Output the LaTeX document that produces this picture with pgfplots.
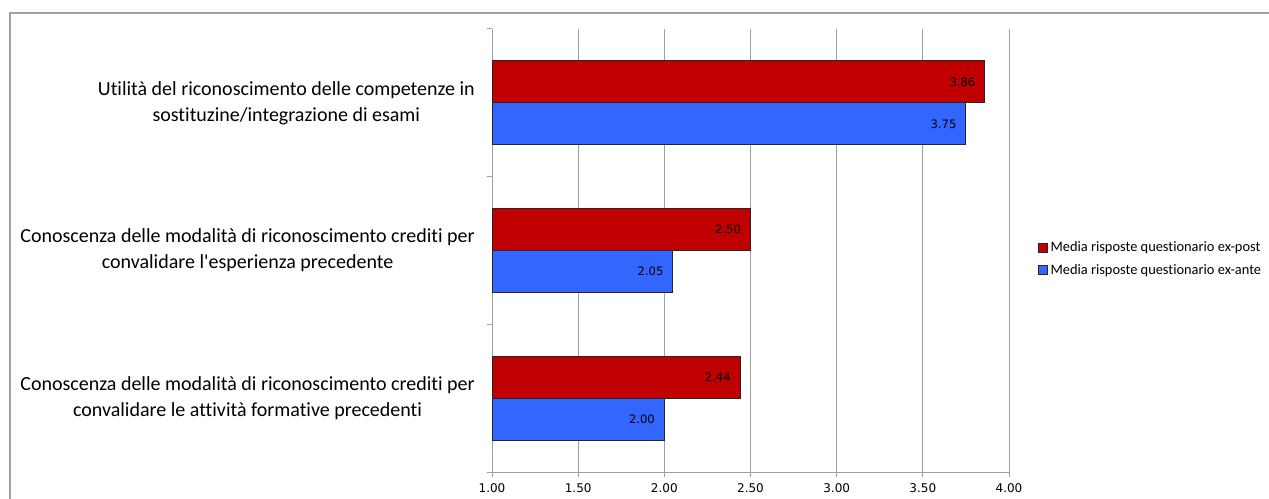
\documentclass[border=0pt]{standalone}
\usepackage{pgfplots}
\pgfplotsset{compat=1.18}
\usepackage{fontspec}
\setmainfont{Carlito}[Ligatures={NoCommon}]
\newfontfamily\numfont{DejaVu Sans}
\definecolor{redbar}{RGB}{192,0,0}
\definecolor{bluebar}{RGB}{51,102,255}
\definecolor{gridc}{RGB}{160,160,160}
\begin{document}
\begin{tikzpicture}[x=1pt,y=1pt]
\useasboundingbox (0,0) rectangle (951.75,374.25);
\draw[gridc, line width=1pt] (7.5,0) -- (7.5,364.5) -- (951.75,364.5);
\begin{axis}[
  at={(369pt,20.25pt)}, anchor=south west,
  scale only axis, width=387.75pt, height=332.25pt,
  xmin=1, xmax=4, ymin=-0.5, ymax=2.5,
  xbar, bar width=31.5pt,
  xtick={1,1.5,2,2.5,3,3.5,4},
  /pgf/number format/.cd, fixed, fixed zerofill, precision=2, assume math mode=true, /pgfplots/.cd,
  xticklabel style={font=\numfont\fontsize{9}{10}\selectfont, yshift=-1.5pt},
  xmajorgrids, grid style={gridc, line width=0.75pt},
  axis x line*=bottom, axis y line*=left,
  axis line style={gridc, line width=0.75pt, -},
  tick align=outside, major tick length=3.75pt,
  tick style={gridc, line width=0.75pt},
  ytick={-0.5,0.5,1.5,2.5}, yticklabels={},
  extra y ticks={0,1,2},
  extra y tick labels={{Conoscenza delle modalità di riconoscimento crediti per\\convalidare le attività formative precedenti},{Conoscenza delle modalità di riconoscimento crediti per\\convalidare l\textquotesingle esperienza precedente},{Utilità del riconoscimento delle competenze in\\sostituzine/integrazione di esami}},
  extra y tick style={major tick length=0pt, yticklabel style={align=center, font=\fontsize{15}{19.5}\selectfont, inner sep=0pt, anchor=east, xshift=-12.75pt}},
  nodes near coords={\pgfmathprintnumber{\pgfplotspointmeta}},
  point meta=x,
  every node near coord/.append style={anchor=east, inner sep=0pt, xshift=-6.75pt, font=\numfont\fontsize{8.7}{10}\selectfont, black},
  legend style={at={(1,0.481)}, anchor=west, xshift=21.75pt, draw=none, fill=none, inner sep=0pt, font=\fontsize{10.8}{12}\selectfont, row sep=4pt},
  legend cell align=left,
  legend image code/.code={\draw[#1, draw=black!85, line width=0.6pt] (0pt,-3.3pt) rectangle (6.6pt,3.3pt);},
]
\addplot[fill=redbar, draw=black!85, line width=0.75pt, bar shift=15.75pt] coordinates {(2.44,0) (2.50,1) (3.86,2)};
\addlegendentry{Media risposte questionario ex-post}
\addplot[fill=bluebar, draw=black!85, line width=0.75pt, bar shift=-15.75pt] coordinates {(2.00,0) (2.05,1) (3.75,2)};
\addlegendentry{Media risposte questionario ex-ante}
\end{axis}
\end{tikzpicture}
\end{document}
